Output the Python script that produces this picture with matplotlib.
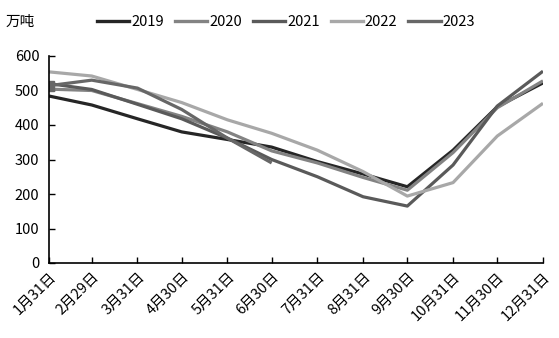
import matplotlib
matplotlib.use("Agg")
import matplotlib.pyplot as plt
import numpy as np
from datetime import date

plt.rcParams['font.family'] = ['Noto Sans CJK SC', 'DejaVu Sans']

# Month-end dates (leap year so that February ends on the 29th)
dates = [date(2020, 1, 31), date(2020, 2, 29), date(2020, 3, 31), date(2020, 4, 30),
         date(2020, 5, 31), date(2020, 6, 30), date(2020, 7, 31), date(2020, 8, 31),
         date(2020, 9, 30), date(2020, 10, 31), date(2020, 11, 30), date(2020, 12, 31)]
tick_labels = ['1月31日', '2月29日', '3月31日', '4月30日', '5月31日', '6月30日',
               '7月31日', '8月31日', '9月30日', '10月31日', '11月30日', '12月31日']

# Inventory, 10k tonnes
stock_2019 = [484, 458, 418, 380, 358, 336, 294, 258, 221, 327, 453, 522]
stock_2020 = [504, 500, 462, 425, 380, 325, 290, 248, 211, 320, 450, 528]
stock_2021 = [520, 503, 460, 418, 362, 300, 250, 192, 165, 284, 455, 556]
stock_2022 = [554, 542, 503, 465, 415, 376, 327, 265, 194, 233, 368, 463]
stock_2023 = [514, 530, 507, 445, 362, 290]

series = [
    ('2019', stock_2019, '#262626'),
    ('2020', stock_2020, '#838383'),
    ('2021', stock_2021, '#5a5a5a'),
    ('2022', stock_2022, '#a8a8a8'),
    ('2023', stock_2023, '#676767'),
]

FS = 10.5

fig = plt.figure(figsize=(5.59, 3.38), dpi=100)
ax = fig.add_axes([49 / 559, 1 - 263 / 338, (543 - 49) / 559, (263 - 56) / 338])

for name, vals, col in series:
    kw = {}
    if name == '2023':
        kw = dict(marker='s', markevery=[0], markersize=6.5)
    ax.plot(dates[:len(vals)], vals, color=col, lw=2.3, label=name,
            solid_capstyle='butt', **kw)

ax.set_xlim(dates[0], dates[-1])
ax.set_ylim(0, 600)
ax.set_yticks(np.arange(0, 601, 100))
ax.set_xticks(dates)
ax.set_xticklabels(tick_labels, rotation=45, ha='right', va='top',
                   rotation_mode='anchor')
ax.tick_params(axis='both', direction='in', length=4, width=1, labelsize=FS,
               colors='black')
ax.tick_params(axis='x', pad=5)
ax.tick_params(axis='y', pad=7)
for s in ['top', 'right']:
    ax.spines[s].set_visible(False)
for s in ['left', 'bottom']:
    ax.spines[s].set_linewidth(1.2)
    ax.spines[s].set_color('black')

fig.text(6 / 559, 1 - 22 / 338, '万吨', fontsize=FS, va='center', ha='left')

handles, labels = ax.get_legend_handles_labels()
handles = [plt.Line2D([], [], color=h.get_color(), lw=2.4) for h in handles]
fig.legend(handles, labels, loc='center left', bbox_to_anchor=(97 / 559, 1 - 22 / 338),
           ncol=5, frameon=False, fontsize=FS, handlelength=2.2,
           handletextpad=0.15, columnspacing=0.75, borderpad=0, borderaxespad=0)

fig.savefig('out.png', dpi=100)
